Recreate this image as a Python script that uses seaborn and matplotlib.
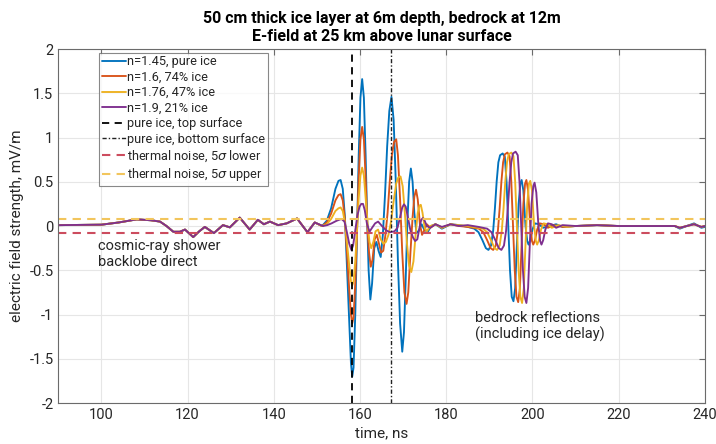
import pandas as pd
import seaborn as sns
import matplotlib.pyplot as plt

# direct backlobe signal, shared by all four curves
t_direct = [90, 100, 104, 108.2, 111.5, 113.6, 115.1, 116.7, 118.2, 119.4, 121.3, 122.7,
            124.0, 126.1, 128.2, 129.8, 132.1, 134.4, 136.3, 137.7, 139.1, 141.0, 143.0,
            145.4, 147.8, 149.5]
v_direct = [0.01, 0.015, 0.04, 0.075, 0.065, 0.05, 0.0, -0.065, -0.065, -0.04, -0.125, -0.06,
            -0.01, -0.08, 0.01, -0.015, 0.095, -0.04, 0.07, 0.02, 0.05, 0.01, 0.03,
            0.085, -0.07, 0.04]

# n=1.45, pure ice
t_blue = [151.2, 152.3, 153.3, 154.3, 155.0, 155.5, 156.0, 156.5, 157.0, 157.5, 157.9, 158.2,
          158.5, 158.9, 159.3, 159.7, 160.1, 160.5, 160.9, 161.3, 161.7, 162.0, 162.4, 162.8,
          163.3, 163.8, 164.3, 164.8, 165.3, 165.8, 166.3, 166.8, 167.3, 167.8, 168.3, 168.8,
          169.3, 169.8, 170.2, 170.6, 171.0, 171.4, 171.8, 172.2, 172.6, 173.1, 173.7, 174.3,
          175.0, 175.8, 176.5, 177.5, 179.0, 181.0, 183.0, 185.0,
          186.5, 187.5, 188.4, 189.2, 189.8, 190.4, 190.9, 191.3, 191.7, 192.1, 192.5, 193.1,
          193.6, 194.0, 194.4, 194.8, 195.2, 195.6, 196.0, 196.4, 196.8, 197.2, 197.5, 197.9,
          198.4, 198.8, 199.1, 199.5, 200.0, 200.6, 201.5, 202.5,
          204.0, 205.5, 207.0, 210.0, 215.0, 220.0, 225.0, 230.0, 233.0, 234.2, 235.8, 237.5,
          239.2, 240.0]
v_blue = [0.0, 0.06, 0.2, 0.42, 0.51, 0.52, 0.42, 0.1, -0.5, -1.1, -1.55, -1.70,
          -1.6, -1.0, -0.1, 0.8, 1.45, 1.66, 1.45, 0.8, 0.0, -0.5, -0.83, -0.65,
          -0.25, -0.18, -0.28, -0.35, -0.1, 0.35, 0.9, 1.3, 1.46, 1.2, 0.5, -0.4,
          -1.1, -1.42, -1.2, -0.6, 0.05, 0.5, 0.65, 0.5, 0.15, -0.08, -0.05, 0.02,
          -0.05, -0.06, 0.0, 0.02, -0.03, 0.02, 0.01, -0.01,
          -0.03, -0.07, -0.16, -0.25, -0.27, -0.22, -0.05, 0.2, 0.5, 0.72, 0.80, 0.82,
          0.78, 0.5, 0.0, -0.5, -0.8, -0.85, -0.7, -0.2, 0.25, 0.48, 0.52, 0.4,
          0.0, -0.17, -0.21, -0.16, -0.04, 0.03, 0.02, -0.02,
          0.0, 0.02, -0.01, 0.0, 0.01, 0.0, 0.0, 0.0, 0.0, -0.03, 0.0, 0.03,
          -0.02, -0.01]

# n=1.6, 74% ice
t_orange = [151.2, 152.3, 153.3, 154.3, 155.0, 155.5, 156.0, 156.5, 157.0, 157.5, 157.9, 158.2,
            158.5, 158.9, 159.3, 159.7, 160.1, 160.5, 160.9, 161.3, 161.7, 162.1, 162.5, 162.9,
            163.4, 163.9, 164.4, 164.9, 165.4, 165.9, 166.4, 166.9, 167.4, 167.9, 168.4, 168.8,
            169.3, 169.8, 170.3, 170.8, 171.2, 171.7, 172.2, 172.6, 173.0, 173.4, 173.9, 174.4,
            174.9, 175.5, 176.3, 177.5, 179.0, 181.0, 183.0, 185.0,
            187.6, 188.6, 189.5, 190.3, 190.9, 191.5, 192.0, 192.4, 192.8, 193.2, 193.6, 194.2,
            194.7, 195.1, 195.5, 195.9, 196.3, 196.7, 197.1, 197.5, 197.9, 198.3, 198.6, 199.0,
            199.5, 199.9, 200.2, 200.6, 201.1, 201.7, 202.6, 203.6,
            205.0, 207.0, 210.0, 215.0, 220.0, 225.0, 230.0, 233.0, 234.2, 235.8, 237.5,
            239.2, 240.0]
v_orange = [0.0, 0.04, 0.14, 0.29, 0.35, 0.36, 0.29, 0.07, -0.32, -0.72, -1.0, -1.10,
            -1.03, -0.65, -0.06, 0.55, 0.98, 1.12, 0.98, 0.55, 0.0, -0.3, -0.46, -0.38,
            -0.15, -0.1, -0.2, -0.3, -0.28, -0.1, 0.15, 0.5, 0.8, 0.95, 0.98, 0.8,
            0.3, -0.3, -0.75, -0.88, -0.75, -0.3, 0.1, 0.33, 0.41, 0.3, 0.02, -0.1,
            -0.05, 0.02, -0.02, 0.02, -0.02, 0.02, 0.0, -0.01,
            -0.03, -0.07, -0.16, -0.25, -0.27, -0.22, -0.05, 0.2, 0.5, 0.72, 0.81, 0.83,
            0.79, 0.5, 0.0, -0.5, -0.8, -0.86, -0.7, -0.2, 0.25, 0.48, 0.52, 0.4,
            0.0, -0.17, -0.21, -0.16, -0.04, 0.03, 0.02, -0.02,
            0.01, -0.01, 0.0, 0.01, 0.0, 0.0, 0.0, 0.0, -0.02, 0.0, 0.02,
            -0.01, 0.0]

# n=1.76, 47% ice
t_yellow = [151.2, 152.3, 153.3, 154.3, 155.0, 155.5, 156.0, 156.5, 157.0, 157.5, 157.9, 158.2,
            158.5, 158.9, 159.3, 159.7, 160.1, 160.5, 160.9, 161.3, 161.8, 162.2, 162.6, 163.1,
            163.6, 164.2, 164.8, 165.4, 166.0, 166.6, 167.2, 167.8, 168.4, 168.9, 169.4, 169.9,
            170.4, 170.9, 171.4, 171.9, 172.4, 172.9, 173.4, 173.8, 174.1, 174.5, 175.0, 175.5,
            176.3, 177.5, 179.0, 181.0, 183.0, 185.0,
            188.5, 189.5, 190.4, 191.2, 191.8, 192.4, 192.9, 193.3, 193.7, 194.1, 194.5, 195.1,
            195.6, 196.0, 196.4, 196.8, 197.2, 197.6, 198.0, 198.4, 198.8, 199.2, 199.5, 199.9,
            200.4, 200.8, 201.1, 201.5, 202.0, 202.6, 203.5, 204.5,
            206.0, 208.0, 210.0, 215.0, 220.0, 225.0, 230.0, 233.0, 234.2, 235.8, 237.5,
            239.2, 240.0]
v_yellow = [0.0, 0.02, 0.08, 0.17, 0.2, 0.21, 0.17, 0.04, -0.2, -0.45, -0.62, -0.67,
            -0.63, -0.4, -0.05, 0.32, 0.57, 0.66, 0.57, 0.32, 0.0, -0.18, -0.25, -0.18,
            -0.06, -0.04, -0.15, -0.2, -0.18, -0.1, 0.05, 0.28, 0.48, 0.55, 0.56, 0.45,
            0.15, -0.2, -0.45, -0.52, -0.4, -0.1, 0.15, 0.23, 0.24, 0.15, -0.02, -0.06,
            0.0, 0.02, -0.02, 0.02, 0.01, 0.0,
            -0.03, -0.07, -0.16, -0.25, -0.27, -0.22, -0.05, 0.2, 0.5, 0.72, 0.81, 0.83,
            0.79, 0.5, 0.0, -0.5, -0.8, -0.87, -0.7, -0.2, 0.25, 0.48, 0.51, 0.4,
            0.0, -0.17, -0.21, -0.16, -0.04, 0.03, 0.02, -0.02,
            0.01, -0.01, 0.0, 0.01, 0.0, 0.0, 0.0, 0.0, -0.02, 0.0, 0.02,
            -0.01, 0.0]

# n=1.9, 21% ice
t_purple = [151.4, 152.4, 153.4, 154.6, 155.7, 156.4, 157.0, 157.5, 158.0, 158.4, 158.9, 159.4,
            159.9, 160.3, 160.7, 161.1, 161.6, 162.2, 162.8, 163.5, 164.2, 165.1, 166.1, 167.0,
            168.0, 168.7, 169.3, 169.8, 170.2, 170.6, 171.1, 171.7, 172.3, 172.8, 173.3, 173.8,
            174.2, 174.6, 175.0, 175.5, 176.3, 177.5, 179.0, 181.0, 183.0, 185.0, 187.5,
            189.5, 190.5, 191.4, 192.2, 192.8, 193.4, 193.9, 194.3, 194.7, 195.1, 195.5, 196.1,
            196.6, 197.0, 197.4, 197.8, 198.2, 198.6, 199.0, 199.4, 199.8, 200.2, 200.5, 200.9,
            201.4, 201.8, 202.1, 202.5, 203.0, 203.6, 204.5, 205.5,
            207.0, 210.0, 215.0, 220.0, 225.0, 230.0, 233.0, 234.2, 235.8, 237.5,
            239.2, 240.0]
v_purple = [0.0, 0.01, 0.03, 0.06, 0.08, 0.05, -0.08, -0.2, -0.27, -0.22, -0.05, 0.12,
            0.22, 0.25, 0.25, 0.18, 0.03, -0.065, -0.02, 0.03, 0.05, 0.0, -0.05, -0.07,
            -0.06, -0.02, 0.1, 0.21, 0.245, 0.22, 0.1, -0.05, -0.13, -0.17, -0.15, -0.02,
            0.07, 0.09, 0.06, 0.0, -0.02, 0.02, -0.01, 0.02, 0.0, 0.01, -0.01,
            -0.03, -0.07, -0.16, -0.25, -0.27, -0.22, -0.05, 0.2, 0.5, 0.72, 0.82, 0.84,
            0.8, 0.5, 0.0, -0.5, -0.8, -0.87, -0.7, -0.2, 0.25, 0.45, 0.49, 0.38,
            0.0, -0.17, -0.21, -0.16, -0.04, 0.03, 0.02, -0.02,
            0.01, 0.0, 0.01, 0.0, 0.0, 0.0, 0.0, -0.02, 0.0, 0.02,
            -0.01, 0.0]

labels = ['n=1.45, pure ice', 'n=1.6, 74% ice', 'n=1.76, 47% ice', 'n=1.9, 21% ice']
colors = ['#0072BD', '#D95319', '#EDB120', '#7E2F8E']

t_top_surface = 158.2
t_bottom_surface = 167.3
noise_lower = -0.075
noise_upper = 0.075

sns.set_style('white')
plt.rcParams['font.family'] = ['Roboto', 'DejaVu Sans']
plt.rcParams['axes.unicode_minus'] = False

fig = plt.figure(figsize=(7.16, 4.44), dpi=100)
ax = fig.add_axes([0.0814, 0.0923, 0.903, 0.7973])

series = [(t_blue, v_blue), (t_orange, v_orange), (t_yellow, v_yellow), (t_purple, v_purple)]
for (t, v), lab, col in zip(series, labels, colors):
    df = pd.DataFrame({'t': t_direct + t, 'v': v_direct + v})
    sns.lineplot(data=df, x='t', y='v', color=col, linewidth=1.35, label=lab, ax=ax)

ax.axvline(t_top_surface, color='black', linestyle=(0, (4, 3)), linewidth=1.3,
           label='pure ice, top surface')
ax.axvline(t_bottom_surface, color='#222222', linestyle=(0, (3, 1.5, 1, 1.5)), linewidth=1.0,
           label='pure ice, bottom surface')
ax.axhline(noise_lower, color='#CC4C5E', linestyle=(0, (4, 3)), linewidth=1.5,
           label='thermal noise, 5$\\sigma$ lower')
ax.axhline(noise_upper, color='#F2C55C', linestyle=(0, (4, 3)), linewidth=1.5,
           label='thermal noise, 5$\\sigma$ upper')

ax.set_xlim(90, 240)
ax.set_ylim(-2, 2)
ax.set_xticks(range(100, 241, 20))
ax.set_yticks([-2, -1.5, -1, -0.5, 0, 0.5, 1, 1.5, 2])
ax.set_yticklabels(['-2', '-1.5', '-1', '-0.5', '0', '0.5', '1', '1.5', '2'])
ax.grid(True, color='#e6e6e6', linewidth=0.8)
ax.set_axisbelow(True)
for s in ax.spines.values():
    s.set_color('#6b6b6b')
    s.set_linewidth(0.8)
ax.tick_params(direction='in', top=True, right=True, length=4, color='#6b6b6b',
               labelsize=10.5, labelcolor='#262626')

ax.set_xlabel('time, ns', fontsize=11, color='#262626', labelpad=3)
ax.set_ylabel('electric field strength, mV/m', fontsize=11, color='#262626', labelpad=4)
ax.set_title('50 cm thick ice layer at 6m depth, bedrock at 12m\n'
             'E-field at 25 km above lunar surface',
             fontsize=11.5, fontweight='bold', color='black', pad=6)

ax.text(99.2, -0.15, 'cosmic-ray shower\nbacklobe direct', fontsize=10.5,
        color='#262626', va='top', ha='left', linespacing=1.15)
ax.text(186.6, -0.96, 'bedrock reflections\n(including ice delay)', fontsize=10.5,
        color='#262626', va='top', ha='left', linespacing=1.15)

leg = ax.legend(loc='upper left', bbox_to_anchor=(0.063, 0.99), fontsize=9.2,
                frameon=True, fancybox=False, handlelength=1.9, handletextpad=0.1,
                labelspacing=0.2, borderpad=0.2, borderaxespad=0)
leg.get_frame().set_edgecolor('#6b6b6b')
leg.get_frame().set_linewidth(0.8)
for txt in leg.get_texts():
    txt.set_color('#262626')

plt.savefig('out.png', dpi=100)
plt.close()
